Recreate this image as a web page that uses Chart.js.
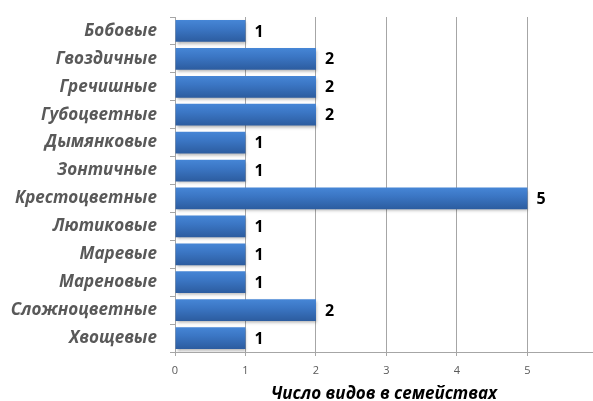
<!DOCTYPE html>
<html>
<head>
<meta charset="utf-8">
<script src="https://cdn.jsdelivr.net/npm/chart.js@4/dist/chart.umd.min.js"></script>
<style>
  html, body { margin: 0; padding: 0; background: #fff; }
  #wrap { width: 593px; height: 401px; position: relative; }
</style>
</head>
<body>
<div id="wrap"><canvas id="chart"></canvas></div>
<script>
const families = [
  "Бобовые", "Гвоздичные", "Гречишные", "Губоцветные", "Дымянковые", "Зонтичные",
  "Крестоцветные", "Лютиковые", "Маревые", "Мареновые", "Сложноцветные", "Хвощевые"
];
const speciesCount = [1, 2, 2, 2, 1, 1, 5, 1, 1, 1, 2, 1];
const xTicks = [0, 1, 2, 3, 4, 5];
const xTitle = "Число видов в семействах";

const FONT = "'Open Sans', 'DejaVu Sans', sans-serif";

// bars: vertical gradient per bar, soft shadow, value written after the end
const barStyle = {
  id: "barStyle",
  beforeDatasetsDraw(chart) {
    const c = chart.ctx;
    chart.getDatasetMeta(0).data.forEach(bar => {
      const top = bar.y - bar.height / 2, bottom = bar.y + bar.height / 2;
      const g = c.createLinearGradient(0, top, 0, bottom);
      g.addColorStop(0, "#4686d6");
      g.addColorStop(0.4, "#3b76c4");
      g.addColorStop(1, "#2c5c9f");
      bar.options.backgroundColor = g;
    });
    c.save();
    c.shadowColor = "rgba(0,0,0,0.3)";
    c.shadowBlur = 3;
    c.shadowOffsetX = 1;
    c.shadowOffsetY = 2;
  },
  afterDatasetsDraw(chart) {
    const c = chart.ctx;
    c.restore();
    c.save();
    c.font = "bold 16px " + FONT;
    c.fillStyle = "#000";
    c.textAlign = "left";
    c.textBaseline = "middle";
    chart.getDatasetMeta(0).data.forEach((bar, i) => {
      c.fillText(String(speciesCount[i]), bar.x + 9, bar.y + 1);
    });
    c.restore();
  }
};

new Chart(document.getElementById("chart"), {
  type: "bar",
  data: {
    labels: families,
    datasets: [{
      data: speciesCount,
      // scriptable so each bar gets its own options object (gradient set in plugin)
      backgroundColor: (ctx) => "#3b76c4",
      borderWidth: 0,
      barPercentage: 0.78,
      categoryPercentage: 1
    }]
  },
  options: {
    indexAxis: "y",
    responsive: true,
    maintainAspectRatio: false,
    animation: false,
    layout: { padding: { top: 17, right: 0, left: 0, bottom: 0 } },
    plugins: { legend: { display: false }, tooltip: { enabled: false } },
    scales: {
      x: {
        min: 0,
        max: 5.93,
        afterBuildTicks: (scale) => { scale.ticks = xTicks.map(v => ({ value: v })); },
        afterFit: (scale) => { scale.height = 49; scale.paddingLeft = 0; scale.paddingRight = 0; },
        grid: { color: "#a6a6a6", lineWidth: 1, drawTicks: true, tickLength: 4 },
        border: { color: "#a6a6a6" },
        ticks: { color: "#595959", font: { family: FONT, size: 11 }, padding: 8 },
        title: {
          display: true,
          text: xTitle,
          color: "#000",
          font: { family: FONT, size: 17, weight: "bold", style: "italic" },
          padding: { top: 2, bottom: -3 }
        }
      },
      y: {
        afterFit: (scale) => { scale.width = 175; scale.paddingTop = 0; scale.paddingBottom = 0; },
        grid: { offset: true, drawOnChartArea: false, color: "#a6a6a6", tickLength: 5 },
        border: { color: "#a6a6a6" },
        ticks: {
          color: "#595959",
          padding: 13,
          font: { family: FONT, size: 17, weight: "bold", style: "italic" }
        }
      }
    }
  },
  plugins: [barStyle]
});
</script>
</body>
</html>
